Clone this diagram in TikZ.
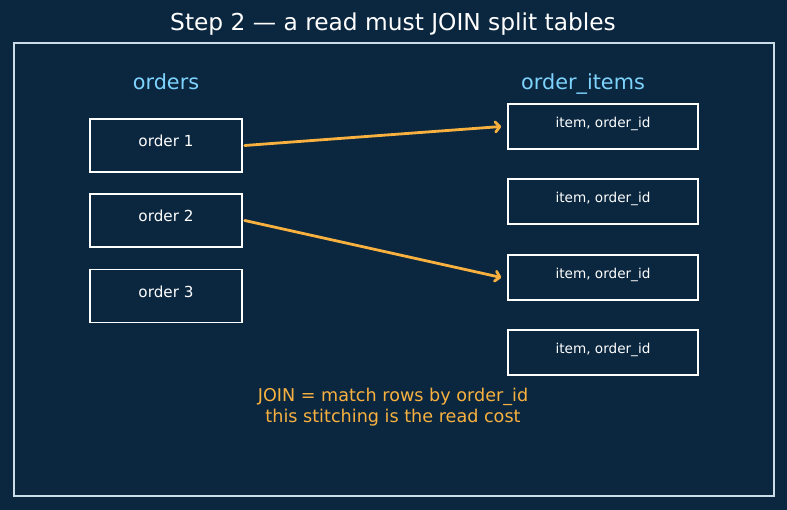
\documentclass[tikz,border=0pt]{standalone}
\usepackage{fontspec}
\setmainfont{DejaVu Sans}
\usetikzlibrary{arrows.meta,positioning}
\definecolor{bgnavy}{HTML}{0B2740}
\definecolor{framegrey}{HTML}{C9DCE8}
\definecolor{headblue}{HTML}{7DD3FC}
\definecolor{joinorange}{HTML}{F8B13F}
\begin{document}
\begin{tikzpicture}[x=1pt,y=-1pt,
  tbl/.style={draw=white, line width=1.5pt, minimum width=152pt, minimum height=53pt, inner sep=0pt},
  itm/.style={draw=white, line width=1.5pt, minimum width=190pt, minimum height=45pt, inner sep=0pt},
  rowtxt/.style={text=white, anchor=base, font=\fontsize{15.2}{18}\selectfont},
  itmtxt/.style={text=white, anchor=base, font=\fontsize{13.6}{16}\selectfont},
  head/.style={text=headblue, anchor=base, font=\fontsize{20.8}{24}\selectfont},
  joinarrow/.style={draw=joinorange, line width=2.8pt, line cap=round, -{Straight Barb[length=4.5pt,width=10pt,round]}}]
\fill [bgnavy] (0,0) rectangle (787,510);
\useasboundingbox (0,0) rectangle (787,510);
\draw [framegrey, line width=1.5pt] (14,43) rectangle (774,496);
\node[text=white, font=\fontsize{23.3}{28}\selectfont] (title) at (393,24) {Step 2 — a read must JOIN split tables};
% the two tables
\node[head] (hOrders) at (166,89.5) {orders};
\node[head] (hItems) at (583,89.5) {order\_items};
\foreach \i/\y in {1/145.5,2/220.5,3/296} {
  \node[rowtxt] (o\i txt) at (166,\y+1.5) {order \i};
  \node[tbl] (o\i) at (166,\y) {};
}
\foreach \i/\y in {1/126.5,2/201.5,3/277.5,4/352.5} {
  \node[itmtxt] (it\i txt) at (603,\y+1.5) {item, order\_id};
  \node[itm] (it\i) at (603,\y) {};
}
% joins
\draw[joinarrow] ([xshift=2pt]o1.east) -- ([xshift=-6pt]it1.west);
\draw[joinarrow] ([xshift=2pt]o2.east) -- ([xshift=-6pt]it3.west);
\node[text=joinorange, align=center, font=\fontsize{17.6}{20.5}\selectfont] (note) at (393,407) {JOIN = match rows by order\_id\\this stitching is the read cost};
\end{tikzpicture}
\end{document}
